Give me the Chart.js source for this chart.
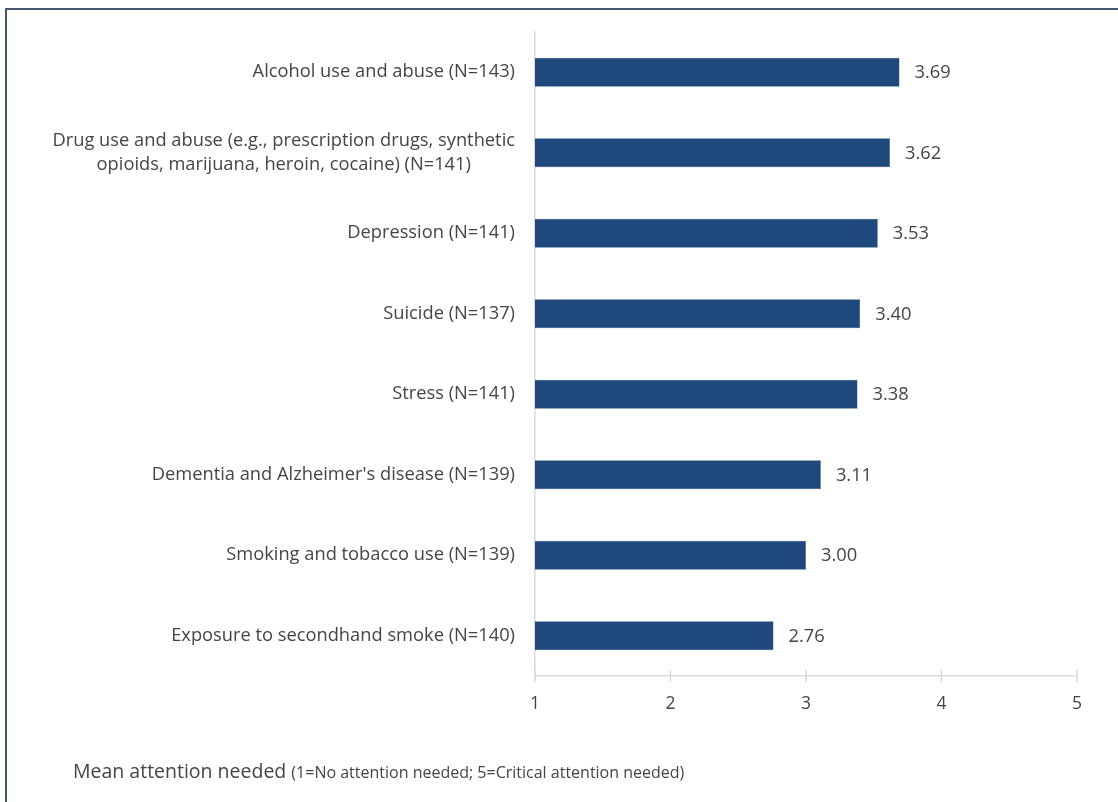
<!DOCTYPE html>
<html>
<head>
<meta charset="utf-8">
<script src="https://cdn.jsdelivr.net/npm/chart.js@4"></script>
<style>
  html, body { margin: 0; padding: 0; background: #fff; overflow: hidden; }
  #wrap { position: relative; width: 1118px; height: 802px; }
  #frame { position: absolute; left: 5px; top: 8px; width: 1200px; height: 900px; border: 2px solid #48566e; box-sizing: border-box; }
  #grafico { position: absolute; left: 0; top: 0; }
  #titulo { position: absolute; left: 73px; top: 757px; font-family: "Open Sans", sans-serif; color: #454545; font-size: 19.5px; white-space: nowrap; }
  #titulo small { font-size: 16px; }
</style>
</head>
<body>
<div id="wrap">
  <div id="frame"></div>
  <canvas id="grafico" width="1118" height="802"></canvas>
  <div id="titulo">Mean attention needed <small>(1=No attention needed; 5=Critical attention needed)</small></div>
</div>
<script>
const categorias = [
  ['Alcohol use and abuse (N=143)'],
  ['Drug use and abuse (e.g., prescription drugs, synthetic', 'opioids, marijuana, heroin, cocaine) (N=141)'],
  ['Depression (N=141)'],
  ['Suicide (N=137)'],
  ['Stress (N=141)'],
  ["Dementia and Alzheimer's disease (N=139)"],
  ['Smoking and tobacco use (N=139)'],
  ['Exposure to secondhand smoke (N=140)']
];
const medias = [3.69, 3.62, 3.53, 3.40, 3.38, 3.11, 3.00, 2.76];
const ticksX = [1, 2, 3, 4, 5];

const FONTE = '"Open Sans", sans-serif';
const COR_TEXTO = '#454545';
const COR_EIXO = '#d9d9d9';

// rotulos, valores e marcas do eixo desenhados a mao
const rotulosPlugin = {
  id: 'rotulos',
  afterDraw(chart) {
    const ctx = chart.ctx;
    const x = chart.scales.x;
    const y = chart.scales.y;
    ctx.save();

    // marcas do eixo x cruzando a linha
    ctx.strokeStyle = COR_EIXO;
    ctx.lineWidth = 1.5;
    ticksX.forEach(v => {
      const px = x.getPixelForValue(v);
      ctx.beginPath();
      ctx.moveTo(px, x.top - 6);
      ctx.lineTo(px, x.top + 6);
      ctx.stroke();
    });

    // categorias (linhas centradas entre si, bloco alinhado a direita)
    ctx.fillStyle = COR_TEXTO;
    ctx.font = '18.3px ' + FONTE;
    ctx.textBaseline = 'middle';
    ctx.textAlign = 'center';
    const direita = y.right - 20;
    categorias.forEach((linhas, i) => {
      const py = y.getPixelForValue(i);
      const w = Math.max(...linhas.map(l => ctx.measureText(l).width));
      const cx = direita - w / 2;
      const alt = 24;
      linhas.forEach((l, j) => {
        ctx.fillText(l, cx, py + (j - (linhas.length - 1) / 2) * alt);
      });
    });

    // valores ao lado das barras
    ctx.textAlign = 'left';
    const meta = chart.getDatasetMeta(0);
    meta.data.forEach((bar, i) => {
      ctx.fillText(medias[i].toFixed(2), bar.x + 15, bar.y + 1);
    });

    ctx.restore();
  }
};

const grafico = new Chart(document.getElementById('grafico'), {
  type: 'bar',
  data: {
    labels: categorias.map(c => c.join(' ')),
    datasets: [{
      data: medias,
      base: 1,
      backgroundColor: '#1f497d',
      borderColor: '#2e5a8e',
      borderWidth: 0.5,
      categoryPercentage: 1,
      barPercentage: 0.36
    }]
  },
  options: {
    indexAxis: 'y',
    responsive: false,
    animation: false,
    devicePixelRatio: 1,
    layout: { padding: { left: 0, right: 41, top: 32, bottom: 0 } },
    plugins: {
      legend: { display: false },
      tooltip: { enabled: false }
    },
    scales: {
      x: {
        min: 1,
        max: 5,
        afterBuildTicks: s => { s.ticks = ticksX.map(v => ({ value: v })); },
        afterFit: s => { s.height = 802 - 676; },
        grid: { display: false, drawTicks: false },
        border: { display: true, color: COR_EIXO, width: 1.5 },
        ticks: { color: COR_TEXTO, font: { family: FONTE, size: 17.5 }, padding: 18 }
      },
      y: {
        afterFit: s => { s.width = 535; },
        grid: { display: false, drawTicks: false },
        border: { display: true, color: COR_EIXO, width: 1.5 },
        ticks: { display: false }
      }
    }
  },
  plugins: [rotulosPlugin]
});
</script>
</body>
</html>
